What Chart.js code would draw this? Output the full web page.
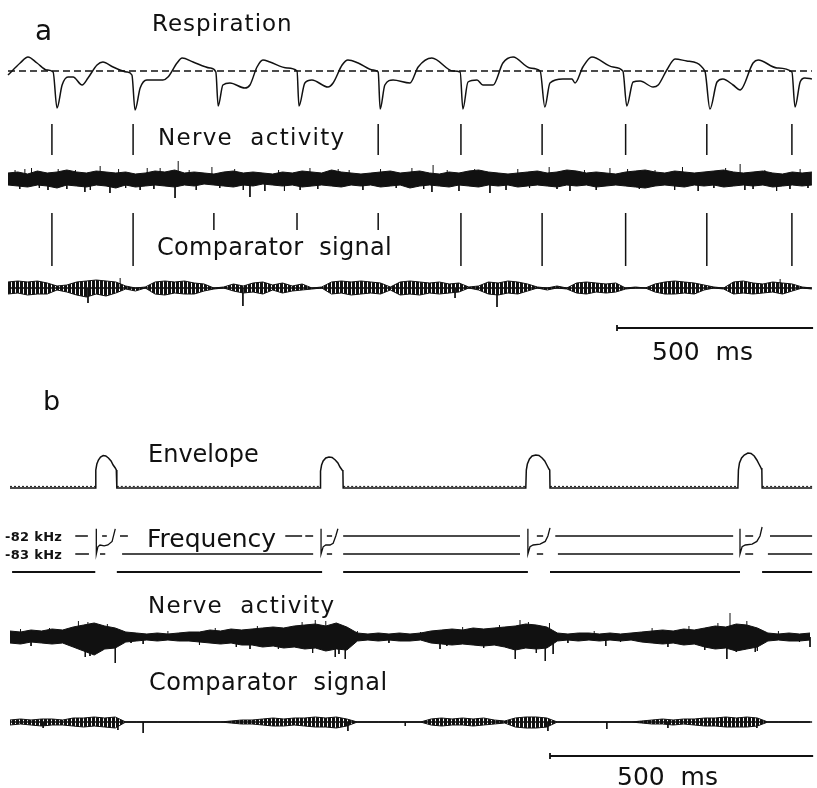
<!DOCTYPE html>
<html>
<head>
<meta charset="utf-8">
<title>Respiration / nerve activity</title>
<script src="https://cdn.jsdelivr.net/npm/chart.js@4.4.1/dist/chart.umd.min.js"></script>
<style>
  html, body { margin: 0; padding: 0; background: #fff; }
  #wrap { position: relative; width: 817px; height: 788px; overflow: hidden; }
  #fig { position: absolute; left: 0; top: 0; }
  .lbl { position: absolute; font-family: "DejaVu Sans", sans-serif; color: #111; line-height: 1; white-space: pre; }
</style>
</head>
<body>
<div id="wrap"><canvas id="fig" width="817" height="788"></canvas></div>
<script>
// ===== panel a (time in ms) =====
// respiration: deflection from resting level (dashed line)
const respTime = [0, 31, 51, 74, 99, 115, 125, 138, 153, 166, 189, 204, 227, 242, 268, 303, 316, 324,
  337, 354, 395, 408, 431, 444, 472, 515, 530, 536, 548, 566, 604, 617, 635, 650, 668, 712, 737, 742,
  757, 775, 816, 829, 852, 867, 893, 931, 944, 949, 961, 982, 1025, 1046, 1081, 1135, 1153, 1160,
  1173, 1196, 1211, 1237, 1262, 1288, 1331, 1357, 1369, 1382, 1415, 1438, 1446, 1466, 1489, 1543, 1568, 1578,
  1594, 1612, 1645, 1658, 1680, 1701, 1731, 1777, 1790, 1808, 1823, 1849, 1867, 1900, 1913, 1961, 1999, 2007,
  2020, 2032, 2050];
const respValue = [-4, 8, 14, 8, 1, -1, -37, -14, -6, -6, -14, -7, 6, 9, 4, -1, -4, -39,
  -17, -9, -9, -6, 8, 13, 9, 3, -1, -35, -14, -12, -17, -14, 4, 11, 9, 3, 0, -35,
  -12, -9, -16, -12, 6, 11, 8, 1, -1, -38, -14, -9, -12, 4, 13, 0, -1, -38,
  -11, -9, -14, -14, 8, 14, 3, 0, -36, -12, -8, -8, -12, 4, 14, 4, 0, -35,
  -11, -10, -16, -14, 1, 12, 10, 0, -38, -11, -8, -14, -19, 8, 11, 3, -1, -36,
  -11, -7, -8];

// event marks
const eventsRow1 = [112, 319, 944, 1155, 1362, 1575, 1782, 1999];
const eventsRow2Long = [112, 319, 1155, 1362, 1575, 1782, 1999];
const eventsRow2Short = [525, 737, 944];

// nerve activity, envelope of the trace, one sample every STEP_A ms
const STEP_A = 25;
const nerveAUpper = [6, 7, 5, 8, 6, 7, 9, 7, 6, 8, 7, 6, 7, 5, 6, 8, 7, 9, 6, 7,
  6, 5, 7, 8, 6, 7, 6, 5, 7, 6, 8, 7, 6, 9, 7, 6, 5, 6, 7, 8,
  6, 7, 8, 6, 5, 7, 6, 8, 9, 7, 6, 5, 6, 7, 8, 6, 7, 9, 8, 6,
  7, 6, 5, 7, 8, 9, 7, 6, 8, 7, 6, 7, 8, 9, 7, 6, 7, 8, 6, 5, 7, 6, 7];
const nerveALower = [-6, -7, -8, -6, -7, -9, -6, -7, -8, -6, -7, -9, -6, -8, -7, -6, -7, -8, -6, -7,
  -5, -6, -7, -8, -6, -7, -5, -6, -7, -6, -8, -7, -6, -7, -8, -6, -7, -6, -8, -7,
  -6, -9, -7, -6, -7, -8, -6, -7, -8, -6, -7, -6, -8, -7, -6, -7, -8, -6, -7, -6,
  -8, -7, -6, -7, -8, -9, -7, -6, -7, -8, -6, -7, -6, -8, -7, -6, -7, -6, -8, -7, -6, -7, -6];
const nerveASpikes = [[18, 9], [30, -10], [43, 10], [60, 11], [80, -9], [102, -11], [128, 10], [150, -10],
  [172, 9], [196, -13], [210, -11], [235, 13], [260, -14], [282, 10], [300, -9], [337, -11], [355, 11],
  [372, -10], [388, 11], [426, -19], [434, 18], [462, 9], [480, -11], [520, 12], [540, -9], [578, 10],
  [600, -11], [617, -18], [655, -12], [690, 9], [705, -12], [745, -11], [770, 11], [790, -10], [842, 10],
  [870, 9], [905, -11], [950, 10], [990, -9], [1030, 11], [1060, -10], [1081, -13], [1084, 14], [1120, 9],
  [1150, -12], [1190, 10], [1229, -14], [1270, -11], [1300, 10], [1330, -9], [1380, 12], [1400, -10],
  [1433, -12], [1470, 9], [1500, -11], [1535, 11], [1580, 10], [1610, -10], [1650, 9], [1700, -11],
  [1720, 12], [1760, -12], [1800, -9], [1830, 11], [1867, 15], [1879, -11], [1900, -10], [1930, 9],
  [1960, -12], [1994, -10], [2020, 10], [2040, -9]];

// comparator signal
const compAUpper = [6, 7, 6, 7, 5, 2, 3, 6, 7, 8, 7, 6, 2, 0, 1, 6, 7, 6, 7, 5, 4, 0, 1,
  4, 2, 5, 6, 3, 5, 2, 4, 0, 1, 6, 7, 6, 7, 6, 5, 1, 6, 7, 6, 5, 6, 4, 5, 1, 2,
  6, 5, 7, 6, 4, 1, 0, 2, 0, 5, 6, 5, 4, 5, 0, 1, 0, 4, 6, 7, 6, 5, 3, 1, 0,
  6, 7, 5, 4, 6, 5, 4, 1, 0];
const compALower = [-6, -5, -7, -6, -6, -2, -4, -7, -9, -6, -8, -5, -1, -3, 0, -6, -7, -5, -6, -6, -3, -1, 0,
  -3, -5, -4, -6, -2, -5, -3, -2, -1, 0, -6, -5, -7, -6, -5, -6, -2, -7, -6, -7, -5, -6, -5, -4, 0, -2,
  -6, -7, -5, -6, -3, 0, -2, 0, -1, -5, -6, -4, -5, -4, -1, 0, 0, -4, -6, -6, -5, -6, -2, 0, -1,
  -6, -5, -6, -5, -4, -6, -3, 0, -1];
const compASpikes = [[204, -15], [286, 10], [599, -18], [1140, -10], [1247, -19], [1969, 9]];

const scaleBarA = [1553, 2053]; // 500 ms

// ===== panel b (time in ms) =====
const envTime = [0,
  162, 163, 165, 168, 172, 177, 182, 187, 192, 196, 200, 202, 203,
  589, 590, 592, 595, 600, 606, 612, 618, 623, 627, 631, 632.5, 633,
  980, 981, 983, 987, 992, 999, 1005, 1011, 1016, 1020, 1024, 1025.5, 1026,
  1383, 1384, 1386, 1390, 1395, 1402, 1408, 1414, 1419, 1423, 1427, 1428.5, 1429,
  1524];
const envValue = [0,
  0, 18, 24, 28, 31, 32.5, 32, 30, 27, 23, 20, 18, 0,
  0, 17, 23, 27, 30, 31, 30.5, 28, 25, 21, 18, 17, 0,
  0, 18, 24, 29, 32, 33, 32.5, 30, 27, 23, 19, 18, 0,
  0, 18, 25, 30, 33, 35, 34.5, 32, 28, 24, 20, 18, 0,
  0];

// frequency (kHz) during each pulse
const freqPulse1 = [[164, 81.6], [164, 83.0], [167, 82.6], [171, 82.5], [179, 82.55], [186, 82.5], [194, 82.3], [200, 81.6]];
const freqPulse2 = [[591, 81.6], [591, 83.0], [595, 82.6], [600, 82.5], [608, 82.5], [614, 82.4], [619, 82.0], [623, 81.6]];
const freqPulse3 = [[984, 81.6], [984, 83.0], [988, 82.6], [994, 82.5], [1007, 82.45], [1017, 82.3], [1022, 82.0], [1026, 81.55]];
const freqPulse4 = [[1387, 81.6], [1387, 83.0], [1391, 82.6], [1397, 82.5], [1410, 82.45], [1419, 82.3], [1425, 82.0], [1429, 81.5]];
const line82Spans = [[124, 148], [175, 184], [209, 224], [523, 555], [561, 576], [602, 612], [633, 969],
  [1001, 1013], [1036, 1374], [1397, 1412], [1444, 1524]];
const line83Spans = [[124, 150], [171, 181], [213, 576], [602, 612], [633, 969], [1001, 1013],
  [1041, 1374], [1397, 1412], [1440, 1524]];
const stimSpans = [[4, 162], [203, 593], [633, 984], [1026, 1387], [1429, 1524]];

const STEP_B = 20;
const nerveBUpper = [6, 5, 7, 6, 8, 7, 10, 12, 14, 11, 9, 5, 4, 3, 4, 3, 4, 5, 5, 7, 6, 8, 7,
  8, 9, 10, 9, 11, 12, 13, 11, 14, 10, 4, 3, 4, 3, 4, 3, 4, 6, 7, 8, 7, 9, 8, 9, 10,
  11, 13, 12, 10, 4, 3, 4, 4, 3, 4, 3, 4, 5, 6, 7, 6, 8, 7, 9, 11, 10, 13, 12, 9, 4, 3, 4, 3, 4];
const nerveBLower = [-6, -7, -5, -6, -7, -6, -10, -14, -18, -12, -11, -5, -4, -3, -4, -3, -4, -4, -5, -6, -7, -6, -8,
  -8, -10, -9, -11, -10, -12, -11, -14, -12, -13, -4, -3, -4, -3, -4, -4, -3, -6, -7, -8, -7, -8, -9, -8, -10,
  -13, -11, -12, -11, -4, -3, -4, -3, -4, -3, -4, -3, -5, -6, -7, -6, -8, -7, -10, -12, -11, -14, -12, -10, -4, -3, -4, -4, -3];
const nerveBSpikes = [[20, 8], [40, -9], [75, 9], [130, 16], [143, -20], [148, 15], [152, -19], [160, -15],
  [185, 13], [200, -26], [230, -6], [253, -7], [300, 6], [360, -8], [390, 9], [430, -10], [456, -12],
  [470, 11], [510, -12], [555, 15], [575, -16], [580, 17], [600, 16], [618, -20], [625, -17], [637, -22],
  [660, 6], [720, -6], [780, 5], [817, -12], [830, -9], [860, 10], [900, -11], [930, 12], [960, -22],
  [969, 17], [985, 15], [1000, -16], [1017, -24], [1025, 14], [1032, -17], [1060, -6], [1110, 6],
  [1132, -9], [1160, -5], [1220, 9], [1250, -10], [1290, 11], [1320, -13], [1345, 14], [1362, -22],
  [1368, 24], [1380, -15], [1400, 16], [1416, -15], [1420, -14], [1460, 6], [1500, -5], [1520, -10]];

const compBUpper = [2, 3, 2, 3, 3, 2, 4, 4, 5, 4, 5, 0, 0, 0, 0, 0, 0, 0, 0, 0, 0, 1, 2, 2,
  3, 4, 3, 4, 4, 5, 4, 5, 3, 0, 0, 0, 0, 0, 0, 0, 3, 4, 3, 4, 3, 4, 2, 1,
  4, 5, 5, 4, 0, 0, 0, 0, 0, 0, 0, 0, 1, 2, 3, 2, 3, 3, 4, 4, 5, 4, 5, 4, 0, 0, 0, 0, 0];
const compBLower = [-3, -2, -3, -4, -3, -3, -4, -5, -4, -5, -6, 0, 0, 0, 0, 0, 0, 0, 0, 0, 0, -1, -2, -2,
  -3, -4, -4, -3, -4, -5, -5, -6, -4, 0, 0, 0, 0, 0, 0, 0, -3, -4, -3, -3, -4, -3, -2, -1,
  -5, -6, -6, -5, 0, 0, 0, 0, 0, 0, 0, 0, -1, -2, -2, -3, -2, -3, -4, -4, -5, -5, -5, -4, 0, 0, 0, 0, 0];
const compBSpikes = [[63, -6], [205, -8], [253, -11], [642, -9], [751, -4], [1022, -9], [1134, -7], [1250, -6], [1419, -6]];

const scaleBarB = [1026, 1526]; // 500 ms

// ===== layout =====
const H = 788;
const INK = '#111';
// pixel row of the zero level of each trace
const BASE = { resp: 71, mark1: 155, nerveA: 179, mark2: 266, compA: 288, barA: 328,
  env: 488, stim: 572, nerveB: 637, compB: 722, barB: 756 };
const FREQ_ROW = 536, FREQ_PX_PER_KHZ = 18; // 82 kHz row, 83 kHz is 18 px lower

const scales = {
  xA: { type: 'linear', axis: 'x', display: false, min: -20.4, max: 2063 },
  xB: { type: 'linear', axis: 'x', display: false, min: -19, max: 1533.3 },
  y_freq: { type: 'linear', axis: 'y', display: false, reverse: true,
    min: 82 - FREQ_ROW / FREQ_PX_PER_KHZ, max: 82 + (H - FREQ_ROW) / FREQ_PX_PER_KHZ }
};
Object.keys(BASE).forEach(k => {
  scales['y_' + k] = { type: 'linear', axis: 'y', display: false, min: BASE[k] - H, max: BASE[k] };
});

// vertical hatching for the comparator bursts
function hatch() {
  const c = document.createElement('canvas');
  c.width = 4; c.height = 4;
  const g = c.getContext('2d');
  g.fillStyle = INK;
  g.fillRect(0, 0, 3, 4);
  return g.createPattern(c, 'repeat');
}

function pts(ts, vs) { return ts.map((t, i) => ({ x: t, y: vs[i] })); }
function pairs(list) { return list.map(([t, v]) => ({ x: t, y: v })); }
function sampled(vs, step) { return vs.map((v, i) => ({ x: i * step, y: v })); }
function vlines(list) {
  const out = [];
  list.forEach(([t, a, b]) => out.push({ x: t, y: a }, { x: t, y: b }, { x: t, y: null }));
  return out;
}
function hlines(list, y) {
  const out = [];
  list.forEach(([a, b]) => out.push({ x: a, y: y }, { x: b, y: y }, { x: b, y: null }));
  return out;
}
function trace(xId, yKey, data, extra) {
  return Object.assign({ xAxisID: xId, yAxisID: 'y_' + yKey, data: data, borderColor: INK,
    backgroundColor: INK, borderWidth: 1.5, pointRadius: 0, tension: 0, fill: false, spanGaps: false }, extra || {});
}
function band(xId, yKey, up, lo, step, fillStyle, w) {
  return [
    trace(xId, yKey, sampled(up, step), { fill: '+1', backgroundColor: fillStyle, borderWidth: w }),
    trace(xId, yKey, sampled(lo, step), { borderWidth: w })
  ];
}
function spikes(xId, yKey, list) {
  return trace(xId, yKey, vlines(list.map(([t, a]) => [t, 0, a])), { borderWidth: 1 });
}
// flat stretches of the envelope get a fine ripple line
function flatSpans(ts, vs) {
  const segs = [];
  for (let i = 0; i < ts.length - 1; i++) if (vs[i] === 0 && vs[i + 1] === 0) segs.push([ts[i], ts[i + 1]]);
  return segs;
}

const HATCH = hatch();
const datasets = [
  // panel a
  trace('xA', 'resp', pts(respTime, respValue), { borderWidth: 1.5, cubicInterpolationMode: 'monotone' }),
  trace('xA', 'resp', [{ x: 0, y: 0 }, { x: 2050, y: 0 }], { borderWidth: 1.4, borderDash: [7, 4] }),
  trace('xA', 'mark1', vlines(eventsRow1.map(t => [t, 0, 31]))),
  trace('xA', 'mark2', vlines(eventsRow2Long.map(t => [t, 0, 53]).concat(eventsRow2Short.map(t => [t, 36, 53])))),
  ...band('xA', 'nerveA', nerveAUpper, nerveALower, STEP_A, INK, 1),
  spikes('xA', 'nerveA', nerveASpikes),
  trace('xA', 'compA', [{ x: 0, y: 0 }, { x: 2050, y: 0 }]),
  ...band('xA', 'compA', compAUpper, compALower, STEP_A, HATCH, 1),
  spikes('xA', 'compA', compASpikes),
  trace('xA', 'barA', hlines([scaleBarA], 0).concat(vlines([[scaleBarA[0], -3, 3]])), { borderWidth: 1.8 }),
  // panel b
  trace('xB', 'env', pts(envTime, envValue), { borderWidth: 1.5 }),
  trace('xB', 'env', hlines(flatSpans(envTime, envValue), 1.6), { borderWidth: 1, borderDash: [2, 2] }),
  trace('xB', 'freq', pairs(freqPulse1), { borderWidth: 1.3 }),
  trace('xB', 'freq', pairs(freqPulse2), { borderWidth: 1.3 }),
  trace('xB', 'freq', pairs(freqPulse3), { borderWidth: 1.3 }),
  trace('xB', 'freq', pairs(freqPulse4), { borderWidth: 1.3 }),
  trace('xB', 'freq', hlines(line82Spans, 82)),
  trace('xB', 'freq', hlines(line83Spans, 83)),
  trace('xB', 'stim', hlines(stimSpans, 0), { borderWidth: 2 }),
  ...band('xB', 'nerveB', nerveBUpper, nerveBLower, STEP_B, INK, 1),
  spikes('xB', 'nerveB', nerveBSpikes),
  trace('xB', 'compB', [{ x: 0, y: 0 }, { x: 1524, y: 0 }]),
  ...band('xB', 'compB', compBUpper, compBLower, STEP_B, HATCH, 1),
  spikes('xB', 'compB', compBSpikes),
  trace('xB', 'barB', hlines([scaleBarB], 0).concat(vlines([[scaleBarB[0], -3, 3]])), { borderWidth: 1.8 })
];

new Chart(document.getElementById('fig'), {
  type: 'line',
  data: { datasets: datasets },
  options: {
    responsive: false,
    animation: false,
    devicePixelRatio: 1,
    events: [],
    layout: { padding: 0 },
    plugins: { legend: { display: false }, tooltip: { enabled: false }, title: { display: false } },
    scales: scales
  }
});

// text: [text, left, baseline, size, weight, letter-spacing]
const labels = [
  ['a', 35, 41, 28, 'normal', 0],
  ['Respiration', 152, 31, 23, 'normal', 1],
  ['Nerve  activity', 158, 145, 23, 'normal', 1.3],
  ['Comparator  signal', 157, 255, 24, 'normal', 0.3],
  ['500  ms', 652, 360, 25, 'normal', 0],
  ['b', 43, 410, 27, 'normal', 0],
  ['Envelope', 148, 462, 24, 'normal', 0],
  ['-82 kHz', 5, 541, 13, 'bold', 0.3],
  ['-83 kHz', 5, 559, 13, 'bold', 0.3],
  ['Frequency', 147, 547, 25, 'normal', 0],
  ['Nerve  activity', 148, 613, 23, 'normal', 1.3],
  ['Comparator  signal', 149, 690, 24, 'normal', 0.5],
  ['500  ms', 617, 785, 25, 'normal', 0]
];
const wrap = document.getElementById('wrap');
labels.forEach(([text, left, base, size, weight, ls]) => {
  const d = document.createElement('div');
  d.className = 'lbl';
  d.textContent = text;
  d.style.left = left + 'px';
  d.style.top = (base - 0.846 * size) + 'px';
  d.style.fontSize = size + 'px';
  d.style.fontWeight = weight;
  d.style.letterSpacing = ls + 'px';
  wrap.appendChild(d);
});
</script>
</body>
</html>
